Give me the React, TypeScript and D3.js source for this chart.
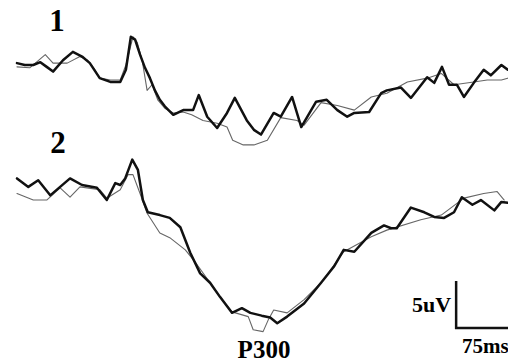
import { useEffect, useRef } from 'react';
import * as d3 from 'd3';

// time in ms, amplitude in uV (positive drawn downward)
const wave1Bold: [number, number][] = [
  [-100, -0.2], [-89, 0], [-77, 0], [-67, -0.3], [-58, 0.2], [-49, 0.7], [-35, -0.5], [-21, -1.4],
  [-8, -0.9], [3, -0.2], [17, 1.4], [32, 1.8], [46, 1.8], [54, 0.5], [61, -3.0], [67, -2.7],
  [74, -1.1], [81, 0.3], [88, 1.4], [95, 2.7], [102, 3.7], [109, 4.4], [121, 5.3], [135, 4.8],
  [149, 4.8], [157, 3.2], [169, 5.5], [183, 6.7], [197, 5.1], [208, 3.5], [225, 5.9], [235, 6.9],
  [245, 7.4], [263, 5.1], [273, 5.5], [289, 3.4], [302, 6.6], [323, 3.9], [338, 3.7], [353, 4.8],
  [367, 5.5], [377, 5.1], [398, 5.0], [415, 3.0], [423, 2.7], [443, 2.4], [457, 3.5], [480, 1.3],
  [490, 1.9], [501, 0.2], [511, 2.1], [522, 2.1], [532, 3.4], [546, 1.9], [560, 0.5], [570, 1.1],
  [585, 0], [594, 0.5],
];

const wave1Thin: [number, number][] = [
  [-100, 0.2], [-82, 0.3], [-60, -1.1], [-49, -0.2], [-29, -0.2], [-11, -0.9], [0, -0.5], [10, 0.5],
  [17, 1.4], [32, 1.6], [46, 1.6], [54, 0], [64, -3.0], [70, -2.4], [77, -0.5], [84, 2.7],
  [91, 2.1], [99, 3.7], [109, 4.6], [121, 5.1], [135, 5.0], [147, 5.3], [163, 5.9], [183, 6.2],
  [197, 6.6], [205, 8.0], [220, 8.5], [235, 8.5], [254, 8.0], [273, 5.6], [296, 5.9], [306, 6.4],
  [330, 4.0], [353, 4.3], [377, 4.8], [401, 3.4], [423, 3.0], [452, 1.8], [480, 1.4], [500, 0.9],
  [518, 2.1], [546, 1.8], [565, 1.6], [585, 1.6], [594, 1.4],
];

const wave2Bold: [number, number][] = [
  [-100, -0.7], [-84, 0.2], [-70, -0.5], [-53, 1.1], [-39, 0.2], [-25, -0.7], [-8, 0], [13, 0.3],
  [27, 1.6], [39, -0.2], [46, 0], [53, -0.7], [63, -2.7], [71, -1.6], [78, 1.6], [85, 2.9],
  [102, 3.2], [116, 3.5], [131, 4.5], [145, 7.2], [159, 9.4], [173, 10.4], [187, 11.9], [204, 13.6],
  [218, 13.1], [230, 13.6], [246, 13.9], [258, 14.1], [268, 14.7], [282, 14.0], [306, 12.6],
  [330, 10.4], [348, 8.7], [362, 6.9], [377, 7.1], [401, 5.1], [419, 4.3], [429, 4.6], [437, 4.6],
  [457, 2.4], [476, 2.9], [490, 3.4], [504, 3.5], [518, 2.9], [529, 1.3], [544, 2.1], [556, 1.6],
  [575, 2.7], [585, 1.8], [594, 1.9],
];

const wave2Thin: [number, number][] = [
  [-100, 0.9], [-77, 1.6], [-58, 1.6], [-39, 0.3], [-25, 1.3], [-11, 0.2], [17, 0.5], [27, 1.4],
  [46, 0.5], [57, -1.1], [64, -1.1], [74, 0.9], [84, 3.0], [102, 5.1], [116, 5.6], [138, 6.9],
  [152, 8.2], [173, 10.4], [187, 11.9], [204, 13.5], [227, 14.0], [234, 15.4], [248, 15.6],
  [255, 14.4], [263, 13.3], [282, 13.6], [306, 12.2], [330, 10.4], [362, 7.1], [401, 5.5],
  [423, 4.8], [471, 3.7], [500, 3.2], [532, 1.4], [560, 0.9], [579, 0.7], [589, 1.6],
];

const panelLabels = ['1', '2'];
const peakLabel = 'P300';
const scaleBar = { ms: 75, uv: 5, startMs: 521, startUv: 15.2 };
const scaleLabels = ['5uV', '75ms'];

const App = () => {
  const svgRef = useRef<SVGSVGElement>(null);

  useEffect(() => {
    const svg = d3.select(svgRef.current);
    svg.selectAll('*').remove();

    const width = 508;
    const height = 364;
    svg.attr('width', width).attr('height', height);

    svg.append('rect').attr('width', width).attr('height', height).attr('fill', '#fff');

    const x = d3.scaleLinear().domain([-100, 600]).range([17, 512]);
    const y1 = d3.scaleLinear().domain([0, 5]).range([65, 112]);
    const y2 = d3.scaleLinear().domain([0, 5]).range([185, 232]);

    const font = '"Liberation Serif", "Times New Roman", serif';

    const drawWave = (data: [number, number][], y: d3.ScaleLinear<number, number>, bold: boolean) => {
      const line = d3.line<[number, number]>()
        .x(d => x(d[0]))
        .y(d => y(d[1]))
        .curve(d3.curveLinear);
      svg.append('path')
        .datum(data)
        .attr('d', line)
        .attr('fill', 'none')
        .attr('stroke', bold ? '#111' : '#666')
        .attr('stroke-width', bold ? 2.5 : 1.1)
        .attr('stroke-linejoin', 'round')
        .attr('stroke-linecap', 'round');
    };

    drawWave(wave1Thin, y1, false);
    drawWave(wave1Bold, y1, true);
    drawWave(wave2Thin, y2, false);
    drawWave(wave2Bold, y2, true);

    // panel numbers
    svg.append('text')
      .attr('x', 57).attr('y', 31)
      .attr('text-anchor', 'middle')
      .attr('font-family', font).attr('font-weight', 'bold').attr('font-size', 31)
      .text(panelLabels[0]);
    svg.append('text')
      .attr('x', 58).attr('y', 153)
      .attr('text-anchor', 'middle')
      .attr('font-family', font).attr('font-weight', 'bold').attr('font-size', 31)
      .text(panelLabels[1]);

    svg.append('text')
      .attr('x', 264).attr('y', 358)
      .attr('text-anchor', 'middle')
      .attr('font-family', font).attr('font-weight', 'bold').attr('font-size', 25)
      .text(peakLabel);

    // scale bar
    const bx = x(scaleBar.startMs);
    const by = y2(scaleBar.startUv);
    const bTop = y2(scaleBar.startUv - scaleBar.uv);
    const bRight = x(scaleBar.startMs + scaleBar.ms);
    svg.append('path')
      .attr('d', `M${bx},${bTop}V${by}H${bRight}`)
      .attr('fill', 'none')
      .attr('stroke', '#111')
      .attr('stroke-width', 2.5);

    svg.append('text')
      .attr('x', bx - 5).attr('y', 312)
      .attr('text-anchor', 'end')
      .attr('font-family', font).attr('font-weight', 'bold').attr('font-size', 22)
      .text(scaleLabels[0]);
    svg.append('text')
      .attr('x', 462).attr('y', 353)
      .attr('font-family', font).attr('font-weight', 'bold').attr('font-size', 21)
      .text(scaleLabels[1]);
  }, []);

  return (
    <div style={{ position: 'absolute', left: 0, top: 0 }}>
      <svg ref={svgRef}></svg>
    </div>
  );
};

export default App;
